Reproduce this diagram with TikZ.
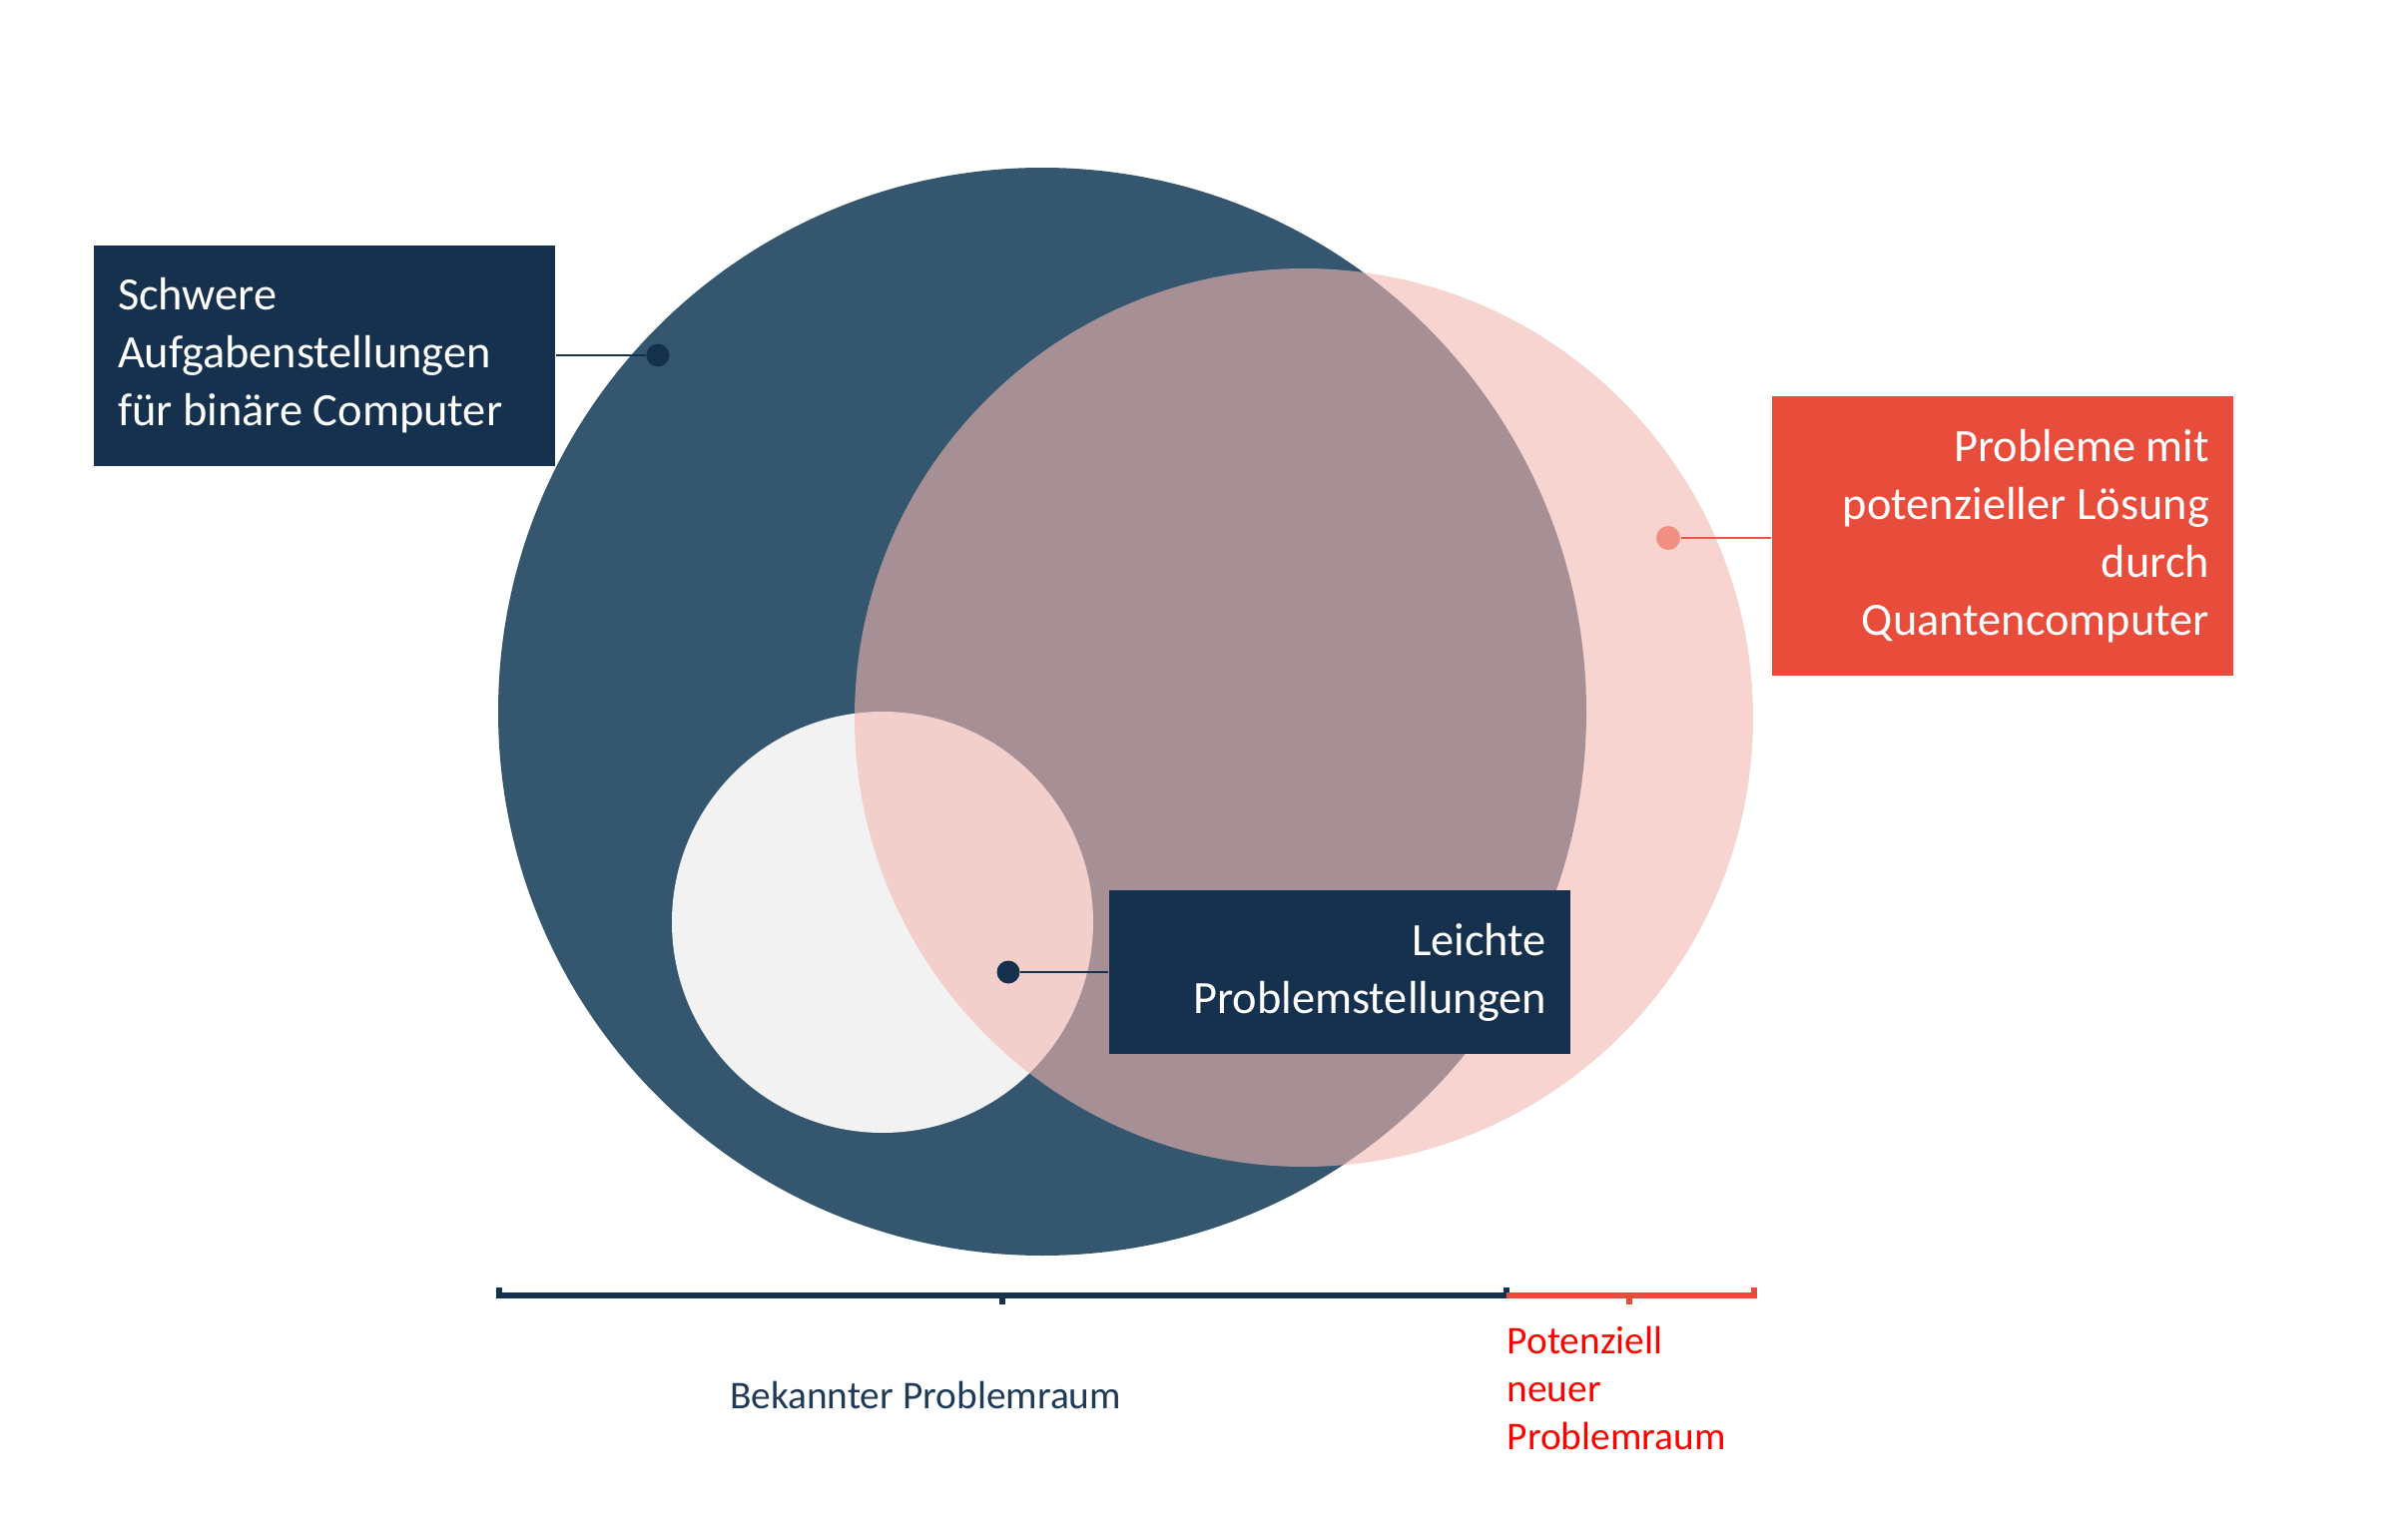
\documentclass[tikz,border=0pt]{standalone}
\usepackage{fontspec}
\setmainfont{Carlito}
\usepackage{tikz}
\usetikzlibrary{positioning}
\definecolor{navy}{HTML}{16314D}
\definecolor{slate}{HTML}{34566F}
\definecolor{salmon}{HTML}{F3B8B0}
\definecolor{lightgrey}{HTML}{F2F2F2}
\definecolor{brick}{HTML}{E84C3A}
\definecolor{dotpink}{HTML}{F08F82}
\definecolor{labelblue}{HTML}{1F3A56}
\tikzset{
    box/.style={inner xsep=0.24cm, inner ysep=0pt, text width=4.14cm,
        font=\fontsize{13.2}{16.5}\selectfont, text=white},
    navybox/.style={box, fill=navy},
    redbox/.style={box, fill=brick, align=flush right},
    markdot/.style={circle, fill=navy, inner sep=0pt, minimum size=0.23cm},
    leader/.style={draw=navy, line width=0.02cm},
    scaleline/.style={line width=0.06cm},
    scalelabel/.style={inner sep=0pt, font=\fontsize{11.2}{13.6}\selectfont},
}

\begin{document}
\begin{tikzpicture}
\useasboundingbox (0,0) rectangle (24.12,-15.36);
%CIRCLES
\fill [slate] (10.44,-7.13) circle (5.45);
\fill [lightgrey] (8.84,-9.24) circle (2.11);
\fill [salmon, fill opacity=0.6] (13.06,-7.19) circle (4.50);

%LABELS
\node [navybox, align=flush left, minimum height=2.21cm] (hard) at (3.25,-3.565)
    {Schwere\\Aufgabenstellungen\\für binäre Computer};
\node [markdot] (harddot) at (6.59,-3.56) {};
\draw [leader] (hard.east |- harddot) -- (harddot);

\node [redbox, minimum height=2.80cm] (quantum) at (20.06,-5.37)
    {Probleme mit\\potenzieller Lösung\\durch\\Quantencomputer};
\node [markdot, fill=dotpink, minimum size=0.24cm] (quantumdot) at (16.71,-5.39) {};
\draw [leader, draw=brick!80!dotpink] (quantumdot) -- (quantum.west |- quantumdot);

\node [navybox, align=flush right, minimum height=1.64cm] (easy) at (13.42,-9.74)
    {Leichte\\Problemstellungen};
\node [markdot] (easydot) at (10.10,-9.74) {};
\draw [leader] (easydot) -- (easy.west |- easydot);

%SCALE
\coordinate (s0) at (5.00,-12.98);
\coordinate (s1) at (15.09,-12.98);
\coordinate (s2) at (17.57,-12.98);
\draw [scaleline, navy] (s0) ++(0,0.08) -- (s0) -- (s1) -- ++(0,0.08);
\draw [scaleline, navy] (10.04,-12.98) -- ++(0,-0.09);
\draw [scaleline, brick] (s1) -- (s2) -- ++(0,0.08);
\draw [scaleline, brick] (16.32,-12.98) -- ++(0,-0.09);
\node [scalelabel, text=labelblue] (known) at (9.27,-13.98) {Bekannter Problemraum};
\node [scalelabel, text=red, align=flush left, anchor=west] (new) at (15.09,-13.91)
    {Potenziell\\neuer\\Problemraum};
\end{tikzpicture}
\end{document}
